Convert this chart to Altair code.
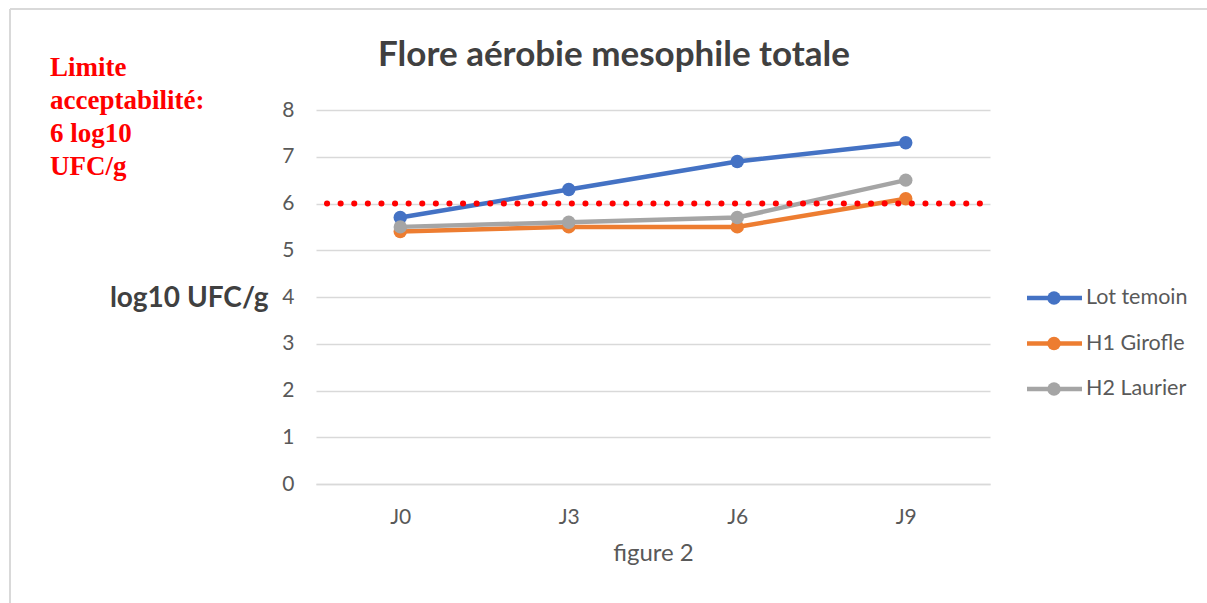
import altair as alt
import pandas as pd

# ---- data ----
days = ["J0", "J3", "J6", "J9"]
series_names = ["Lot temoin", "H1 Girofle", "H2 Laurier"]
lot_temoin = [5.7, 6.3, 6.9, 7.3]
h1_girofle = [5.4, 5.5, 5.5, 6.1]
h2_laurier = [5.5, 5.6, 5.7, 6.5]
limit_value = 6
y_ticks = [0, 1, 2, 3, 4, 5, 6, 7, 8]
colors = ["#4472C4", "#ED7D31", "#A5A5A5"]

title_text = "Flore aérobie mesophile totale"
note_text = "Limite\nacceptabilité:\n6 log10\nUFC/g"
y_title = "log10 UFC/g"
x_title = "figure 2"

rows = []
for name, vals in zip(series_names, [lot_temoin, h1_girofle, h2_laurier]):
    for d, v in zip(days, vals):
        rows.append({"jour": d, "serie": name, "valeur": v})
df = pd.DataFrame(rows)

FONT = "Lato"
GRID = "#d9d9d9"
TXT = "#595959"

color = alt.Color("serie:N", scale=alt.Scale(domain=series_names, range=colors), legend=None)

x_enc = alt.X(
    "jour:N", sort=days,
    scale=alt.Scale(type="point", padding=0.5),
    axis=alt.Axis(
        title=x_title, labelAngle=0, ticks=False, grid=False,
        domain=True, domainColor=GRID, domainWidth=1.5,
        labelFont=FONT, labelFontSize=21, labelColor=TXT,
        labelBaseline="middle", labelPadding=33,
        titleFont=FONT, titleFontSize=24, titleFontWeight="normal", titleColor=TXT,
        titleY=69, titleBaseline="middle",
    ),
)
y_enc = alt.Y(
    "valeur:Q",
    scale=alt.Scale(domain=[0, 8], nice=False, zero=True),
    axis=alt.Axis(
        values=y_ticks, format="d", title=y_title, ticks=False, domain=False,
        grid=True, gridColor=GRID, gridWidth=1.5,
        labelFont=FONT, labelFontSize=21, labelColor=TXT, labelPadding=22,
        titleFont=FONT, titleFontSize=28, titleFontWeight="bold", titleColor="#404040",
        titleAngle=0, titleAlign="right", titleBaseline="middle",
        titleX=-48, titleY=188,
    ),
)

base = alt.Chart(df)
lines = base.mark_line(strokeWidth=4.5).encode(x=x_enc, y=y_enc, color=color)
points = base.mark_circle(size=180, opacity=1).encode(x=x_enc, y=y_enc, color=color)

limit = alt.Chart(pd.DataFrame({"limite": [limit_value]})).mark_rule(
    color="#ff0000", strokeWidth=6, strokeDash=[0.1, 13.5], strokeCap="round"
).encode(y=alt.datum(limit_value), x=alt.value(11), x2=alt.value(666))

main = alt.layer(lines, points, limit)

# legend drawn from the series names
leg_df = pd.DataFrame({"serie": series_names})
leg_y = alt.Y("serie:N", scale=alt.Scale(type="point", domain=series_names, range=[188, 279], padding=0), axis=None)
leg_base = alt.Chart(leg_df)
leg_rule = leg_base.mark_rule(strokeWidth=4.5).encode(x=alt.value(711), x2=alt.value(766), y=leg_y, color=color)
leg_pt = leg_base.mark_circle(size=180, opacity=1).encode(x=alt.value(738), y=leg_y, color=color)
leg_txt = leg_base.mark_text(align="left", baseline="middle", font=FONT, fontSize=21.5, color=TXT).encode(
    x=alt.value(770), y=leg_y, text="serie:N")
legend = alt.layer(leg_rule, leg_pt, leg_txt)

# texts
title = alt.Chart(pd.DataFrame({"t": [title_text]})).mark_text(
    align="center", baseline="alphabetic", font=FONT, fontSize=35, fontWeight="bold", color="#404040"
).encode(x=alt.value(298), y=alt.value(-44), text="t:N")

note = alt.Chart(pd.DataFrame({"t": [note_text]})).mark_text(
    align="left", baseline="alphabetic", font="Liberation Serif", fontSize=27, fontWeight="bold",
    color="#ff0000", lineBreak="\n", lineHeight=33
).encode(x=alt.value(-266), y=alt.value(-34), text="t:N")

# frame lines of the figure
frame_top = alt.Chart(pd.DataFrame({"k": [0]})).mark_rule(color=GRID, strokeWidth=2).encode(
    x=alt.value(-306), x2=alt.value(895), y=alt.value(-101))
frame_left = alt.Chart(pd.DataFrame({"k": [0]})).mark_rule(color=GRID, strokeWidth=2).encode(
    x=alt.value(-306), y=alt.value(-101), y2=alt.value(500))

chart = alt.layer(main, legend, title, note, frame_top, frame_left).resolve_scale(
    y="independent"
).properties(
    width=674, height=374,
    padding={"left": 316, "top": 110, "right": 217, "bottom": 119},
    autosize=alt.AutoSizeParams(type="none"),
    background="white",
).configure_view(stroke=None)

chart.save("out.html", embed_options={"renderer": "svg", "actions": False})
